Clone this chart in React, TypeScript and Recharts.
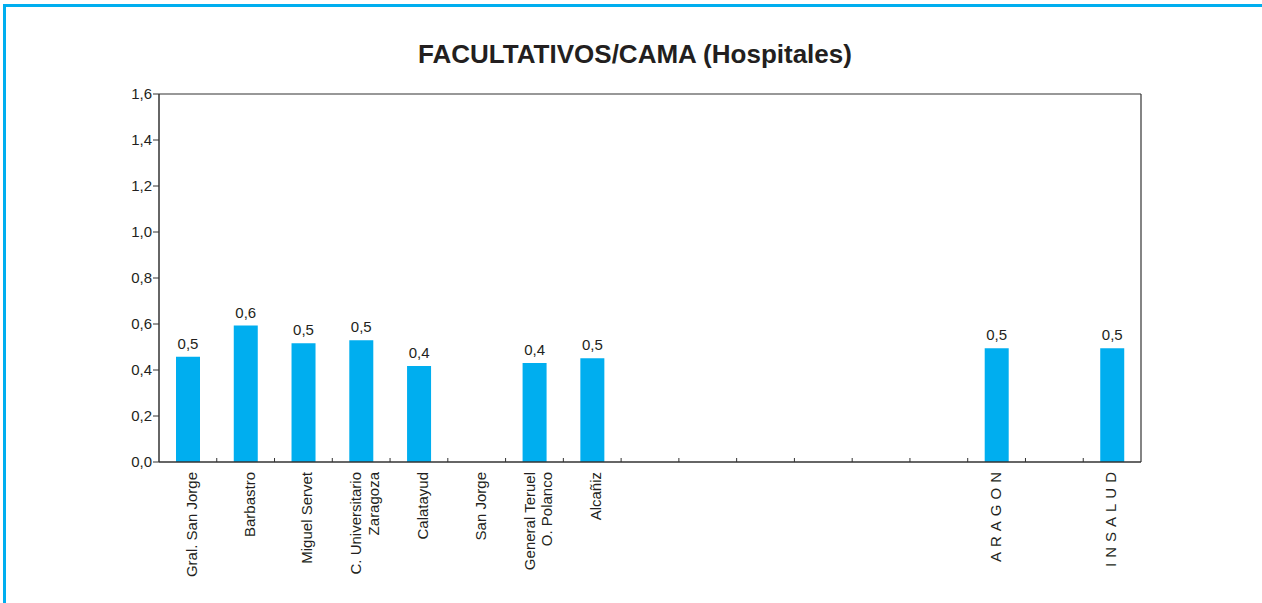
import { BarChart, Bar, XAxis, YAxis, LabelList } from "recharts";

const categories = [
  "Gral. San Jorge",
  "Barbastro",
  "Miguel Servet",
  "C. Universitario\nZaragoza",
  "Calatayud",
  "San Jorge",
  "General Teruel\nO. Polanco",
  "Alcañiz",
  "",
  "",
  "",
  "",
  "",
  "",
  "ARAGON",
  "",
  "INSALUD",
];

const values: (number | null)[] = [
  0.458, 0.593, 0.516, 0.529, 0.417, null, 0.43, 0.451,
  null, null, null, null, null, null, 0.495, null, 0.495,
];

const yTicks = [0, 0.2, 0.4, 0.6, 0.8, 1.0, 1.2, 1.4, 1.6];
const spacedLabels = ["ARAGON", "INSALUD"];

const data = categories.map((name, i) => ({ name, value: values[i] }));

const TEXT = "#231f20";
const AXIS = "#333";
const BLUE = "#00aeef";

const fmt = (v: any) => (v == null ? "" : Number(v).toFixed(1).replace(".", ","));

// label rotated under each bar, plus the small inner tick on the left edge of the slot
function CategoryTick({ x, y, payload, index }: any) {
  const name = String(payload?.value ?? "");
  const half = payload?.offset ?? 0;
  const lines = name ? name.split("\n") : [];
  const spaced = spacedLabels.includes(name);
  const step = 17.5;
  const base = (spaced ? 4 : 9) - ((lines.length - 1) * step) / 2;
  return (
    <g transform={`translate(${x},${y})`}>
      {index > 0 && <line x1={-half} x2={-half} y1={0} y2={-4} stroke={AXIS} />}
      {lines.map((line, i) => (
        <text
          key={i}
          transform="rotate(-90)"
          x={spaced ? -5 : -10}
          y={base + i * step}
          textAnchor="end"
          fontSize={15}
          fill={TEXT}
          letterSpacing={spaced ? 5 : 0}
        >
          {line}
        </text>
      ))}
    </g>
  );
}

export default function App() {
  return (
    <div
      style={{
        position: "absolute",
        left: 0,
        top: 0,
        width: 1262,
        height: 603,
        background: "#fff",
        fontFamily: '"Liberation Sans", Arial, sans-serif',
        overflow: "hidden",
      }}
    >
      <div
        style={{
          position: "absolute",
          left: 3,
          top: 4,
          width: 1262,
          height: 603,
          borderTop: `3px solid ${BLUE}`,
          borderLeft: `3px solid ${BLUE}`,
        }}
      />
      <div
        style={{
          position: "absolute",
          left: 0,
          top: 41,
          width: 1270,
          textAlign: "center",
          fontSize: 26,
          lineHeight: "26px",
          fontWeight: "bold",
          color: TEXT,
        }}
      >
        FACULTATIVOS/CAMA (Hospitales)
      </div>
      <div style={{ position: "absolute", left: 0, top: 0 }}>
        <BarChart
          width={1262}
          height={603}
          data={data}
          margin={{ top: 93, right: 120, bottom: 11, left: 99 }}
          barSize={24}
        >
          <XAxis
            xAxisId="top"
            orientation="top"
            dataKey="name"
            height={1}
            tick={false}
            tickLine={false}
            axisLine={{ stroke: AXIS, strokeWidth: 1.2 }}
          />
          <XAxis
            xAxisId="main"
            dataKey="name"
            interval={0}
            height={130}
            tickSize={0}
            tickMargin={0}
            tickLine={false}
            tick={<CategoryTick />}
            axisLine={{ stroke: AXIS, strokeWidth: 1.5 }}
          />
          <YAxis
            yAxisId="left"
            domain={[0, 1.6]}
            ticks={yTicks}
            interval={0}
            width={60}
            tickSize={6}
            tickMargin={1}
            tickFormatter={fmt}
            tick={{ fill: TEXT, fontSize: 15 }}
            tickLine={{ stroke: AXIS }}
            axisLine={{ stroke: AXIS, strokeWidth: 1.5 }}
          />
          <YAxis
            yAxisId="right"
            orientation="right"
            domain={[0, 1.6]}
            width={1}
            tick={false}
            tickLine={false}
            axisLine={{ stroke: AXIS, strokeWidth: 1.2 }}
          />
          <Bar
            xAxisId="main"
            yAxisId="left"
            dataKey="value"
            fill={BLUE}
            isAnimationActive={false}
          >
            <LabelList
              dataKey="value"
              position="top"
              offset={8}
              formatter={fmt}
              fontSize={15}
              fill={TEXT}
            />
          </Bar>
        </BarChart>
      </div>
    </div>
  );
}
